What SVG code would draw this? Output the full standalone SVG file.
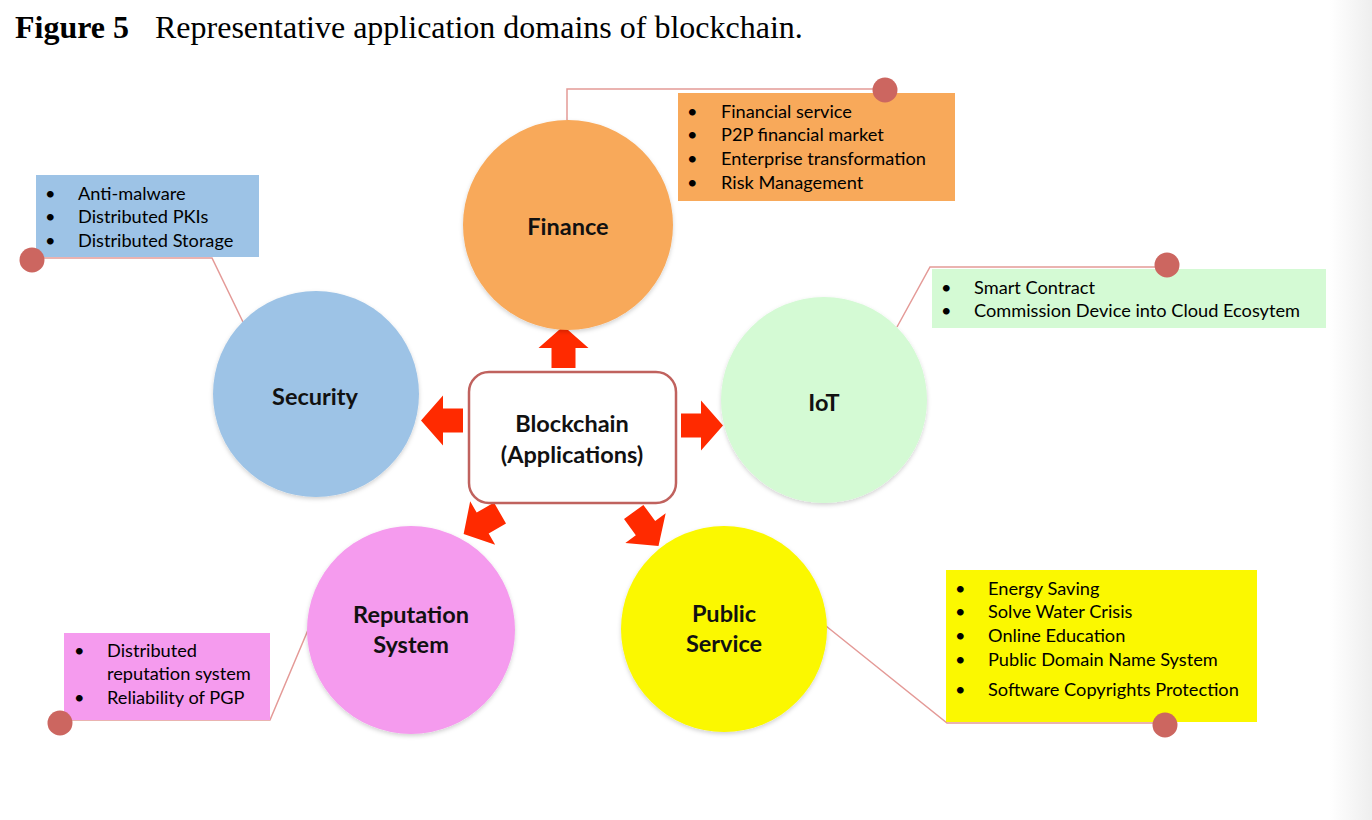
<svg xmlns="http://www.w3.org/2000/svg" width="1372" height="820" viewBox="0 0 1372 820">
<defs>
<style>
.title{font-family:"Liberation Serif","Times New Roman",serif;font-size:32px;fill:#000}
.lbl{font-family:Lato,"Open Sans",sans-serif;font-weight:bold;font-size:23.5px;fill:#111;text-anchor:middle}
.item{font-family:Lato,"Open Sans",sans-serif;font-size:18.2px;fill:#000}
.conn{fill:none;stroke:#e49a97;stroke-width:1.5}
.dot{fill:#cc6660}
.arrow{fill:#ff2a00}
.circ{filter:url(#sh)}
</style>
<filter id="sh" x="-10%" y="-10%" width="120%" height="125%">
<feDropShadow dx="0" dy="2" stdDeviation="2" flood-color="#000" flood-opacity="0.18"/>
</filter>
<linearGradient id="edge" x1="0" y1="0" x2="1" y2="0">
<stop offset="0" stop-color="#ffffff"/>
<stop offset="1" stop-color="#eeeeee"/>
</linearGradient>
<path id="arr" d="M0,-12 L20,-12 L20,-25 L42,0 L20,25 L20,12 L0,12 Z"/>
</defs>
<rect x="0" y="0" width="1372" height="820" fill="#ffffff"/>
<rect x="1330" y="0" width="42" height="820" fill="url(#edge)"/>

<text class="title" x="15" y="38"><tspan font-weight="bold">Figure 5</tspan><tspan x="155">Representative application domains of blockchain.</tspan></text>

<g id="connectors">
<polyline class="conn" points="567,120 567,89 885,89"/>
<polyline class="conn" points="243,322 212,258 32,258"/>
<polyline class="conn" points="897,327 930,267 1167,267"/>
<polyline class="conn" points="308,630 270,720 60,720"/>
<polyline class="conn" points="826,626 947,723 1165,723"/>
<use href="#arr" class="arrow" transform="translate(563.5,368) rotate(-90)"/>
<use href="#arr" class="arrow" transform="translate(463,420.5) rotate(180)"/>
<use href="#arr" class="arrow" transform="translate(681,425.5)"/>
<use href="#arr" class="arrow" transform="translate(500,513) rotate(150)"/>
<use href="#arr" class="arrow" transform="translate(633.7,512) rotate(53.8)"/>
</g>

<g id="finance">
<circle class="circ" cx="568" cy="225" r="105" fill="#f8a95a"/>
<text class="lbl" x="568" y="235">Finance</text>
</g>
<g id="finance-box">
<rect x="678" y="93" width="277" height="108" fill="#f8a95a"/>
<text class="item"><tspan x="687" y="118">•</tspan><tspan x="721" y="118">Financial service</tspan>
<tspan x="687" y="141">•</tspan><tspan x="721" y="141">P2P financial market</tspan>
<tspan x="687" y="165">•</tspan><tspan x="721" y="165">Enterprise transformation</tspan>
<tspan x="687" y="189">•</tspan><tspan x="721" y="189">Risk Management</tspan></text>
<circle class="dot" cx="885" cy="90" r="12.5"/>
</g>

<g id="security">
<circle class="circ" cx="316" cy="394" r="103" fill="#9dc3e6"/>
<text class="lbl" x="315" y="405">Security</text>
</g>
<g id="security-box">
<rect x="36" y="175" width="223" height="82" fill="#9dc3e6"/>
<text class="item"><tspan x="45" y="200">•</tspan><tspan x="78" y="200">Anti-malware</tspan>
<tspan x="45" y="223">•</tspan><tspan x="78" y="223">Distributed PKIs</tspan>
<tspan x="45" y="247">•</tspan><tspan x="78" y="247">Distributed Storage</tspan></text>
<circle class="dot" cx="32" cy="260" r="12.5"/>
</g>

<g id="iot">
<circle class="circ" cx="824" cy="400" r="103" fill="#d4fad4"/>
<text class="lbl" x="824" y="411">IoT</text>
</g>
<g id="iot-box">
<rect x="932" y="269" width="394" height="59" fill="#d4fad4"/>
<text class="item"><tspan x="941" y="294">•</tspan><tspan x="974" y="294">Smart Contract</tspan>
<tspan x="941" y="317">•</tspan><tspan x="974" y="317">Commission Device into Cloud Ecosytem</tspan></text>
<circle class="dot" cx="1167" cy="265" r="12.5"/>
</g>

<g id="reputation">
<circle class="circ" cx="411" cy="630" r="104" fill="#f59bee"/>
<text class="lbl" x="411" y="623">Reputation</text>
<text class="lbl" x="411" y="653">System</text>
</g>
<g id="reputation-box">
<rect x="64" y="633" width="206" height="87" fill="#f59bee"/>
<text class="item"><tspan x="74" y="657">•</tspan><tspan x="107" y="657">Distributed</tspan>
<tspan x="107" y="680">reputation system</tspan>
<tspan x="74" y="704">•</tspan><tspan x="107" y="704">Reliability of PGP</tspan></text>
<circle class="dot" cx="60" cy="723" r="12.5"/>
</g>

<g id="public-service">
<circle class="circ" cx="724" cy="629" r="103" fill="#fbf800"/>
<text class="lbl" x="724" y="622">Public</text>
<text class="lbl" x="724" y="652">Service</text>
</g>
<g id="public-service-box">
<rect x="946" y="570" width="311" height="152" fill="#fbf800"/>
<text class="item"><tspan x="955" y="595">•</tspan><tspan x="988" y="595">Energy Saving</tspan>
<tspan x="955" y="618">•</tspan><tspan x="988" y="618">Solve Water Crisis</tspan>
<tspan x="955" y="642">•</tspan><tspan x="988" y="642">Online Education</tspan>
<tspan x="955" y="666">•</tspan><tspan x="988" y="666">Public Domain Name System</tspan>
<tspan x="955" y="696">•</tspan><tspan x="988" y="696">Software Copyrights Protection</tspan></text>
<circle class="dot" cx="1165" cy="725" r="12.5"/>
</g>

<g id="blockchain">
<rect x="469" y="372" width="207" height="131" rx="20" ry="20" fill="#ffffff" stroke="#c0625e" stroke-width="2.5"/>
<text class="lbl" x="572" y="432">Blockchain</text>
<text class="lbl" x="572" y="463">(Applications)</text>
</g>
</svg>
